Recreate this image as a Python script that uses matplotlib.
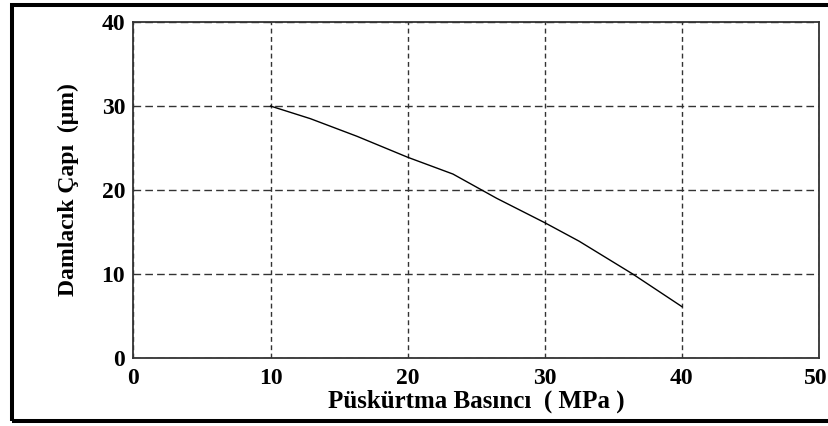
import matplotlib
matplotlib.use("Agg")
import matplotlib.pyplot as plt
from matplotlib.patches import Rectangle
from matplotlib.transforms import ScaledTranslation

# Data
pressure_mpa = [10, 12.9, 16.3, 20, 23.3, 26.5, 30, 32.5, 36.4, 40]
droplet_um = [30, 28.5, 26.4, 23.9, 21.9, 19.0, 16.1, 13.9, 10.0, 6.1]
x_ticks = [0, 10, 20, 30, 40, 50]
y_ticks = [0, 10, 20, 30, 40]
x_label = "Püskürtma Basıncı  ( MPa )"
y_label = "Damlacık Çapı  (μm)"

plt.rcParams['font.family'] = ['Liberation Serif', 'DejaVu Serif']

fig = plt.figure(figsize=(8.29, 4.26), dpi=100)
ax = fig.add_axes([0.161, 0.160, 0.827, 0.788])
ax.set_axisbelow(True)

ax.plot(pressure_mpa, droplet_um, color='black', lw=1.0, zorder=3)

ax.set_xlim(0, 50)
ax.set_ylim(0, 40)
ax.set_xticks(x_ticks)
ax.set_yticks(y_ticks)
ax.set_xticklabels([str(t) for t in x_ticks], fontsize=17, fontweight='bold')
ax.set_yticklabels([str(t) for t in y_ticks], fontsize=17, fontweight='bold')
ax.tick_params(axis='both', length=0)
ax.tick_params(axis='x', pad=7)
ax.tick_params(axis='y', pad=6)

# keep the last x tick label inside the picture
last = ax.get_xticklabels()[-1]
last.set_horizontalalignment('right')
last.set_transform(last.get_transform() + ScaledTranslation(0.09, 0, fig.dpi_scale_trans))

ax.grid(True, axis='y', linestyle=(0, (5.5, 3)), color='#333333', lw=1.0)
ax.grid(True, axis='x', linestyle=(0, (3.5, 2.5)), color='#333333', lw=1.0)
for s in ax.spines.values():
    s.set_color('#333333')
    s.set_linewidth(1.3)

ax.set_xlabel(x_label, fontsize=18, fontweight='bold', labelpad=1)
ax.set_ylabel(y_label, fontsize=17, fontweight='bold', labelpad=16)

# outer frame of the figure
fig.patches.append(Rectangle((12 / 829, 5 / 426), 1.2, 416 / 426,
                             transform=fig.transFigure, fill=False,
                             edgecolor='black', lw=2.9))

fig.savefig("out.png", dpi=100)
